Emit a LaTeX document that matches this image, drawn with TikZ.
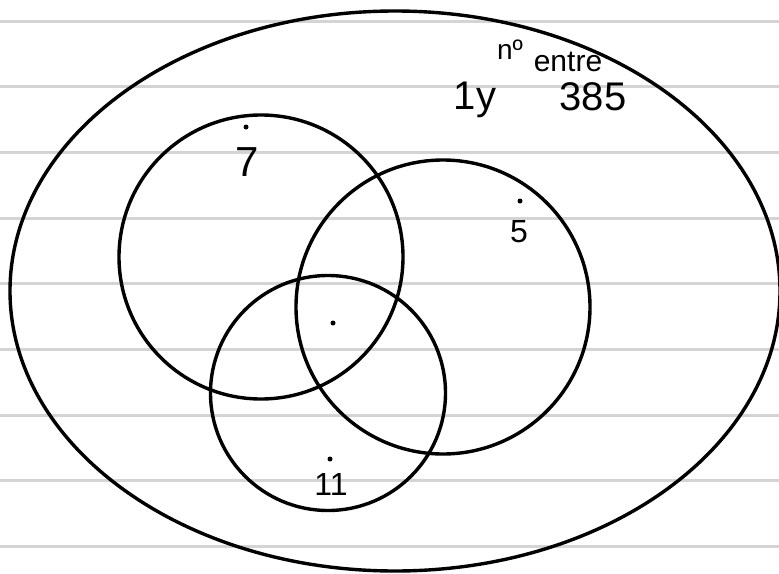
\documentclass[tikz,border=0pt]{standalone}
\usepackage{fontspec}
\setmainfont{Liberation Sans}
\usetikzlibrary{shapes}

\begin{document}
\begin{tikzpicture}[x=1pt,y=-1pt,line width=3.4pt]
\tikzset{rule/.style={draw=black!17,line width=3pt},set/.style={draw,circle,inner sep=0pt},pt/.style={fill,circle,inner sep=0pt,minimum size=5pt},lbl/.style={font=\fontsize{32}{32}\selectfont,inner sep=0pt}}
\useasboundingbox(0,0)rectangle(779,573);
\foreach \k in {0,...,8}\draw[rule](0,21+65.7*\k)--(779,21+65.7*\k);
\draw(395,291)ellipse[x radius=385,y radius=280];
\node[set,minimum size=284pt](c7)at(261,257){};\node[set,minimum size=294pt](c5)at(443,307){};\node[set,minimum size=235pt](c11)at(328,393){};
\node[lbl,font=\fontsize{42}{42}\selectfont](n7)at(247,162){7};\node[pt](d7)at(246,127){};
\node[lbl](n5)at(519,232){5};\node[pt](d5)at(520,201){};
\node[lbl](n11)at(331,484){11};\node[pt](d11)at(330,459){};
\node[pt](mid)at(333,323){};
\node[lbl,font=\fontsize{28}{28}\selectfont](no)at(510,50){nº};\node[lbl,font=\fontsize{30}{30}\selectfont](entre)at(568,62){entre};
\node[lbl,font=\fontsize{40}{40}\selectfont](one)at(475,100){1y};\node[lbl,font=\fontsize{40}{40}\selectfont](rng)at(593,97){385};
\end{tikzpicture}
\end{document}
